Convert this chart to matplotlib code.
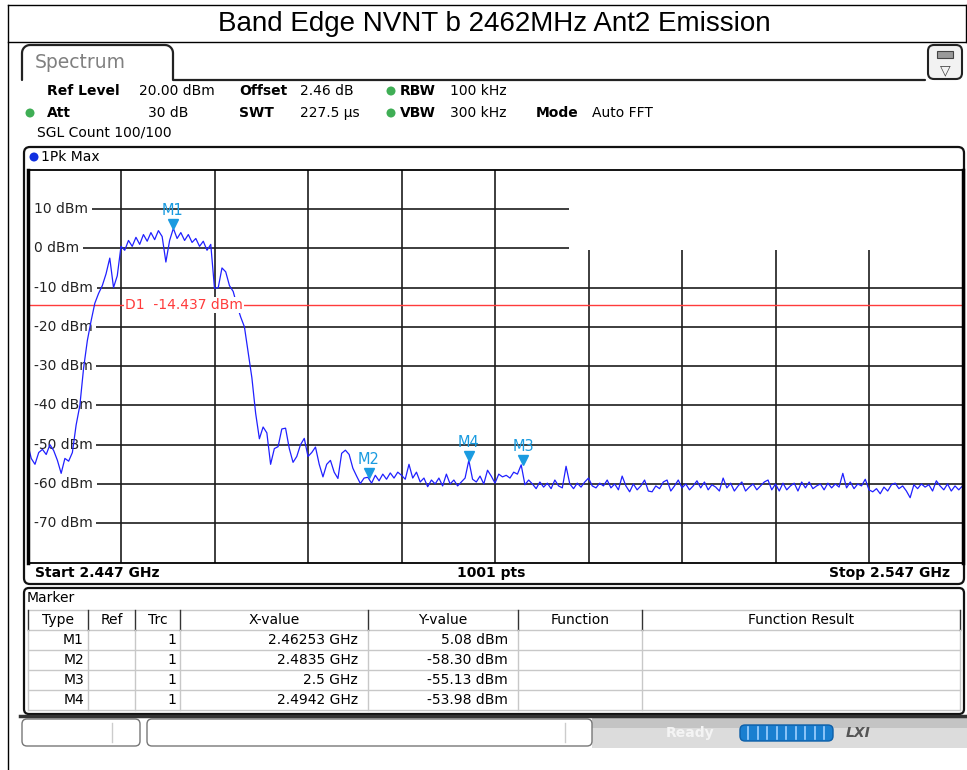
import numpy as np
import matplotlib
matplotlib.use('Agg')
import matplotlib.pyplot as plt
import matplotlib.transforms as mtransforms
from matplotlib.patches import Rectangle, FancyBboxPatch, Circle

plt.rcParams['font.family'] = ['DejaVu Sans']

# ---- data ----
title = 'Band Edge NVNT b 2462MHz Ant2 Emission'
start_ghz = 2.447
stop_ghz = 2.547
top_dbm = 20.0
bottom_dbm = -80.0
y_grid_dbm = [10, 0, -10, -20, -30, -40, -50, -60, -70]
x_grid_ghz = [2.457, 2.467, 2.477, 2.487, 2.497, 2.507, 2.517, 2.527, 2.537]
d1_dbm = -14.437

# trace (1Pk Max), one reading every 0.4 MHz from start to stop
trace_dbm = [
    -49.6, -53.5, -55.0, -52.0, -51.2, -52.5, -50.0, -51.5, -54.0, -57.3,
    -53.5, -54.2, -52.0, -45.0, -40.0, -30.5, -23.5, -18.5, -14.0, -11.5,
    -9.5, -6.5, -2.5, -10.0, -7.0,
    0.5, -0.5, 2.0, 0.5, 2.8, 1.0, 3.5, 1.8, 4.0, 2.2,
    4.5, 3.0, -3.5, 2.0, 5.08, 2.5, 4.0, 2.0, 3.5, 1.5,
    2.5, 0.5, 1.8, -0.5, 1.0,
    -10.2, -10.0, -5.0, -6.0, -9.5, -11.0, -14.5, -17.5, -20.0, -26.5,
    -33.0, -42.0, -48.5,
    -45.5, -47.0, -55.0, -51.0, -50.5, -46.0, -45.8, -51.0, -54.5, -53.0,
    -50.0, -48.4, -53.0, -52.0, -50.6, -55.0, -58.2, -55.0, -54.0, -57.0,
    -58.6, -52.2, -51.4, -52.5, -56.0, -58.0, -59.9, -58.5,
    -58.3, -59.8, -57.8, -59.2, -57.5, -58.8, -57.2, -58.5, -57.0, -57.8,
    -58.8, -55.0, -58.5, -57.0, -59.5, -58.5, -60.7, -59.0, -60.0, -58.5,
    -60.5, -57.5, -60.0, -59.0, -60.5, -59.5, -58.5, -53.98, -58.8, -59.5,
    -58.0, -60.0, -56.5, -58.0, -59.8, -57.5, -58.2, -57.8, -58.5, -57.0,
    -57.5, -55.13, -60.2, -59.0, -60.0, -61.2, -59.5, -60.8, -59.8, -61.2,
    -59.0, -60.5, -61.0, -55.5, -60.0, -61.2, -59.8, -60.8, -59.5, -58.5,
    -60.5, -61.0, -59.8, -60.5, -59.0, -61.0, -60.0, -61.5, -58.0, -60.5,
    -62.0, -60.0, -61.5, -60.5, -59.0, -61.8, -62.0, -60.5, -61.2, -59.5,
    -59.0, -61.8, -60.5, -59.0, -61.0, -60.0, -61.5, -60.5, -59.2, -61.0,
    -59.5, -61.5, -60.2, -60.8, -61.8, -58.5, -61.0, -59.8, -61.8, -60.5,
    -59.5, -61.8, -60.8, -60.0, -61.5, -60.5, -59.5, -59.0, -61.5, -60.0,
    -61.8, -59.8, -61.5, -60.5, -59.8, -61.8, -59.5, -61.0, -59.5, -61.2,
    -60.5, -60.0, -61.5, -59.8, -61.0, -60.0, -60.8, -57.3, -61.0, -59.5,
    -61.2, -60.0, -60.5, -58.8, -61.5, -62.0, -61.2, -62.5, -60.8, -61.8,
    -60.2, -59.8, -61.2, -60.5, -61.8, -63.5, -60.2, -61.2, -60.0, -60.8,
    -60.2, -61.8, -59.2, -60.5, -61.5, -60.0, -61.8, -60.5, -61.5, -60.5,
]

marker_names = ['M1', 'M2', 'M3', 'M4']
marker_ghz = [2.46253, 2.4835, 2.5, 2.4942]
marker_dbm = [5.08, -58.30, -55.13, -53.98]
marker_x_text = ['2.46253 GHz', '2.4835 GHz', '2.5 GHz', '2.4942 GHz']
marker_y_text = ['5.08 dBm', '-58.30 dBm', '-55.13 dBm', '-53.98 dBm']
marker_trc = ['1', '1', '1', '1']
table_headers = ['Type', 'Ref', 'Trc', 'X-value', 'Y-value', 'Function', 'Function Result']

# ---- colours ----
TRACE = '#2020ff'
MARK = '#1a9be0'
RED = '#ff3b3b'
GRID = '#1c1c1c'
GREEN = '#3fae55'

W, H = 967, 770
fig = plt.figure(figsize=(W / 100, H / 100), dpi=100)
bg = fig.add_axes([0, 0, 1, 1])
bg.set_xlim(0, W)
bg.set_ylim(H, 0)
bg.axis('off')

# outer report table
bg.plot([8, W], [5, 5], color='black', lw=1)
bg.plot([8, W], [42, 42], color='black', lw=1)
bg.plot([8, 8], [5, H], color='black', lw=1)
bg.plot([966, 966], [5, 42], color='black', lw=1)
bg.text(494, 24, title, ha='center', va='center', fontsize=20,
        family='Liberation Sans')

# Spectrum tab
t = np.linspace(0, np.pi / 2, 8)
r = 8
tab_x = np.concatenate([[22], 22 + r - r * np.cos(t), 173 - r + r * np.sin(t), [173, 925]])
tab_y = np.concatenate([[80], 45 + r - r * np.sin(t), 45 + r - r * np.cos(t), [80, 80]])
bg.plot(tab_x, tab_y, color='#222222', lw=1.6, solid_capstyle='round')
bg.text(35, 63, 'Spectrum', fontsize=13.5, color='#808080', va='center')

# icon box top right
bg.add_patch(FancyBboxPatch((928, 45), 34, 34, boxstyle='round,pad=0,rounding_size=6',
                            fc='#f2f2f2', ec='#222222', lw=1.5))
bg.add_patch(Rectangle((937, 51), 16, 7, fc='#9a9a9a', ec='#444444', lw=0.8))
bg.text(945, 70, '\u25bd', ha='center', va='center', fontsize=10, color='#444444')

# setting rows
fs = 10
bg.text(47, 91, 'Ref Level', fontsize=fs, weight='bold', va='center')
bg.text(215, 91, '20.00 dBm', fontsize=fs, va='center', ha='right')
bg.text(239, 91, 'Offset', fontsize=fs, weight='bold', va='center')
bg.text(300, 91, '2.46 dB', fontsize=fs, va='center')
bg.add_patch(Circle((391, 91), 4.5, fc=GREEN, ec='none'))
bg.text(400, 91, 'RBW', fontsize=fs, weight='bold', va='center')
bg.text(450, 91, '100 kHz', fontsize=fs, va='center')

bg.add_patch(Circle((30, 113), 4.5, fc=GREEN, ec='none'))
bg.text(47, 113, 'Att', fontsize=fs, weight='bold', va='center')
bg.text(188, 113, '30 dB', fontsize=fs, va='center', ha='right')
bg.text(239, 113, 'SWT', fontsize=fs, weight='bold', va='center')
bg.text(300, 113, '227.5 \u00b5s', fontsize=fs, va='center')
bg.add_patch(Circle((391, 113), 4.5, fc=GREEN, ec='none'))
bg.text(400, 113, 'VBW', fontsize=fs, weight='bold', va='center')
bg.text(450, 113, '300 kHz', fontsize=fs, va='center')
bg.text(536, 113, 'Mode', fontsize=fs, weight='bold', va='center')
bg.text(592, 113, 'Auto FFT', fontsize=fs, va='center')
bg.text(37, 133, 'SGL Count 100/100', fontsize=fs, va='center')

# graph window frame
bg.add_patch(FancyBboxPatch((24, 147), 940, 437, boxstyle='round,pad=0,rounding_size=6',
                            fc='white', ec='#111111', lw=1.6))
bg.add_patch(Circle((34, 157), 4.5, fc='#1030e0', ec='none'))
bg.text(41, 157, '1Pk Max', fontsize=fs, va='center')
bg.text(35, 573, 'Start 2.447 GHz', fontsize=fs, weight='bold', va='center')
bg.text(491, 573, '1001 pts', fontsize=fs, weight='bold', va='center', ha='center')
bg.text(950, 573, 'Stop 2.547 GHz', fontsize=fs, weight='bold', va='center', ha='right')

# ---- trace diagram ----
gx0, gx1, gy0, gy1 = 27.5, 962.5, 169.75, 562.5
ax = fig.add_axes([gx0 / W, 1 - gy1 / H, (gx1 - gx0) / W, (gy1 - gy0) / H])
ax.set_xlim(start_ghz, stop_ghz)
ax.set_ylim(bottom_dbm, top_dbm)
ax.set_xticks(x_grid_ghz)
ax.set_yticks(y_grid_dbm)
ax.tick_params(length=0, labelleft=False, labelbottom=False)
ax.set_axisbelow(True)
ax.grid(True, color=GRID, lw=1.2)
for s in ['left', 'right']:
    ax.spines[s].set_linewidth(2.5)
for s in ['top', 'bottom']:
    ax.spines[s].set_linewidth(1.3)
for s in ax.spines.values():
    s.set_zorder(7)

# marker readout area hides the grid
ax.add_patch(Rectangle(((569 - gx0) / (gx1 - gx0), (gy1 - 250) / (gy1 - gy0)),
                       1, 1, transform=ax.transAxes, fc='white', ec='none', zorder=2))

ylab_tr = mtransforms.blended_transform_factory(ax.transAxes, ax.transData)
for v in y_grid_dbm:
    ax.text(6 / (gx1 - gx0), v, '%d dBm' % v, transform=ylab_tr, fontsize=fs,
            va='center', ha='left', color='#222222', zorder=3,
            bbox=dict(fc='white', ec='none', pad=3))

freqs = np.linspace(start_ghz, stop_ghz, len(trace_dbm))
ax.plot(freqs, trace_dbm, color=TRACE, lw=0.9, zorder=4)

ax.axhline(d1_dbm, color=RED, lw=1.0, zorder=3.5)
ax.text(start_ghz + (125 - gx0) / 9350.0, d1_dbm, 'D1  %.3f dBm' % d1_dbm, color=RED,
        fontsize=fs, va='center', ha='left', zorder=5,
        bbox=dict(fc='white', ec='none', pad=0.5))

tri_tr = mtransforms.offset_copy(ax.transData, fig=fig, y=4.5, units='dots')
for name, f, v in zip(marker_names, marker_ghz, marker_dbm):
    ax.plot([f], [v], marker='v', ms=7, color=MARK, transform=tri_tr, zorder=6)
    ax.annotate(name, (f, v), xytext=(0, 18), textcoords='offset pixels', ha='center',
                va='center', fontsize=10.5, color=MARK, zorder=6)

# marker readout in the corner
bg.text(570, 180, 'M1[1]', fontsize=10.5, weight='bold', color=MARK, va='center', zorder=10)
bg.text(960, 180, '%.2f dBm' % marker_dbm[0], fontsize=10.5, weight='bold', color=MARK,
        va='center', ha='right', zorder=10)
bg.text(960, 200, '%.7f GHz' % marker_ghz[0], fontsize=10.5, weight='bold', color=MARK,
        va='center', ha='right', zorder=10)
bg.text(570, 221, 'M2[1]', fontsize=10.5, weight='bold', color=MARK, va='center', zorder=10)
bg.text(960, 221, '%.2f dBm' % marker_dbm[1], fontsize=10.5, weight='bold', color=MARK,
        va='center', ha='right', zorder=10)
bg.text(960, 241, '%.7f GHz' % marker_ghz[1], fontsize=10.5, weight='bold', color=MARK,
        va='center', ha='right', zorder=10)

# ---- marker table ----
tb = fig.add_axes([0, 0, 1, 1])
tb.set_xlim(0, W)
tb.set_ylim(H, 0)
tb.axis('off')
tb.add_patch(FancyBboxPatch((24, 588), 940, 126, boxstyle='round,pad=0,rounding_size=5',
                            fc='white', ec='#111111', lw=1.6))
tb.text(27, 598, 'Marker', fontsize=fs, va='center')
col_edges = [28, 88, 135, 180, 368, 518, 642, 960]
row_top = 610
row_h = 20
for i in range(6):
    yy = row_top + i * row_h
    tb.plot([28, 960], [yy, yy], color='#c8c8c8', lw=1.0)
for j, xx in enumerate(col_edges):
    tb.plot([xx, xx], [row_top, row_top + row_h], color='#333333', lw=1.0)
    tb.plot([xx, xx], [row_top + row_h, row_top + 5 * row_h], color='#c8c8c8', lw=1.0)
for j, head in enumerate(table_headers):
    tb.text((col_edges[j] + col_edges[j + 1]) / 2, row_top + row_h / 2, head, fontsize=fs,
            ha='center', va='center', weight='medium')
for i in range(len(marker_names)):
    yc = row_top + (i + 1.5) * row_h
    tb.text(col_edges[1] - 4, yc, marker_names[i], fontsize=fs, ha='right', va='center')
    tb.text(col_edges[3] - 4, yc, marker_trc[i], fontsize=fs, ha='right', va='center')
    tb.text(col_edges[4] - 10, yc, marker_x_text[i], fontsize=fs, ha='right', va='center')
    tb.text(col_edges[5] - 10, yc, marker_y_text[i], fontsize=fs, ha='right', va='center')

# ---- status bar ----
tb.plot([20, W], [716, 716], color='#333333', lw=2.5)
tb.add_patch(Rectangle((592, 718), W - 592, 30, fc='#dcdcdc', ec='none'))
tb.add_patch(Rectangle((592, 718), W - 592, 10, fc='#c4c4c4', ec='none'))
tb.add_patch(FancyBboxPatch((22, 719), 118, 27, boxstyle='round,pad=0,rounding_size=5',
                            fc='white', ec='#777777', lw=1.0))
tb.plot([112, 112], [723, 742], color='#cccccc', lw=1)
tb.add_patch(FancyBboxPatch((147, 719), 445, 27, boxstyle='round,pad=0,rounding_size=5',
                            fc='white', ec='#777777', lw=1.0))
tb.plot([565, 565], [723, 742], color='#cccccc', lw=1)
tb.text(666, 733, 'Ready', fontsize=fs, color='#f4f4f4', va='center', weight='bold')
tb.add_patch(FancyBboxPatch((740, 725), 93, 16, boxstyle='round,pad=0,rounding_size=5',
                            fc='#1a7fd0', ec='#0d5fa8', lw=1.0))
for k in range(9):
    tb.plot([748 + k * 9.5, 748 + k * 9.5], [727, 739], color='#9fd0ff', lw=1.2)
tb.text(846, 733, 'LXI', fontsize=10, color='#555555', va='center', weight='bold',
        style='italic')

fig.savefig('out.png', dpi=100)
